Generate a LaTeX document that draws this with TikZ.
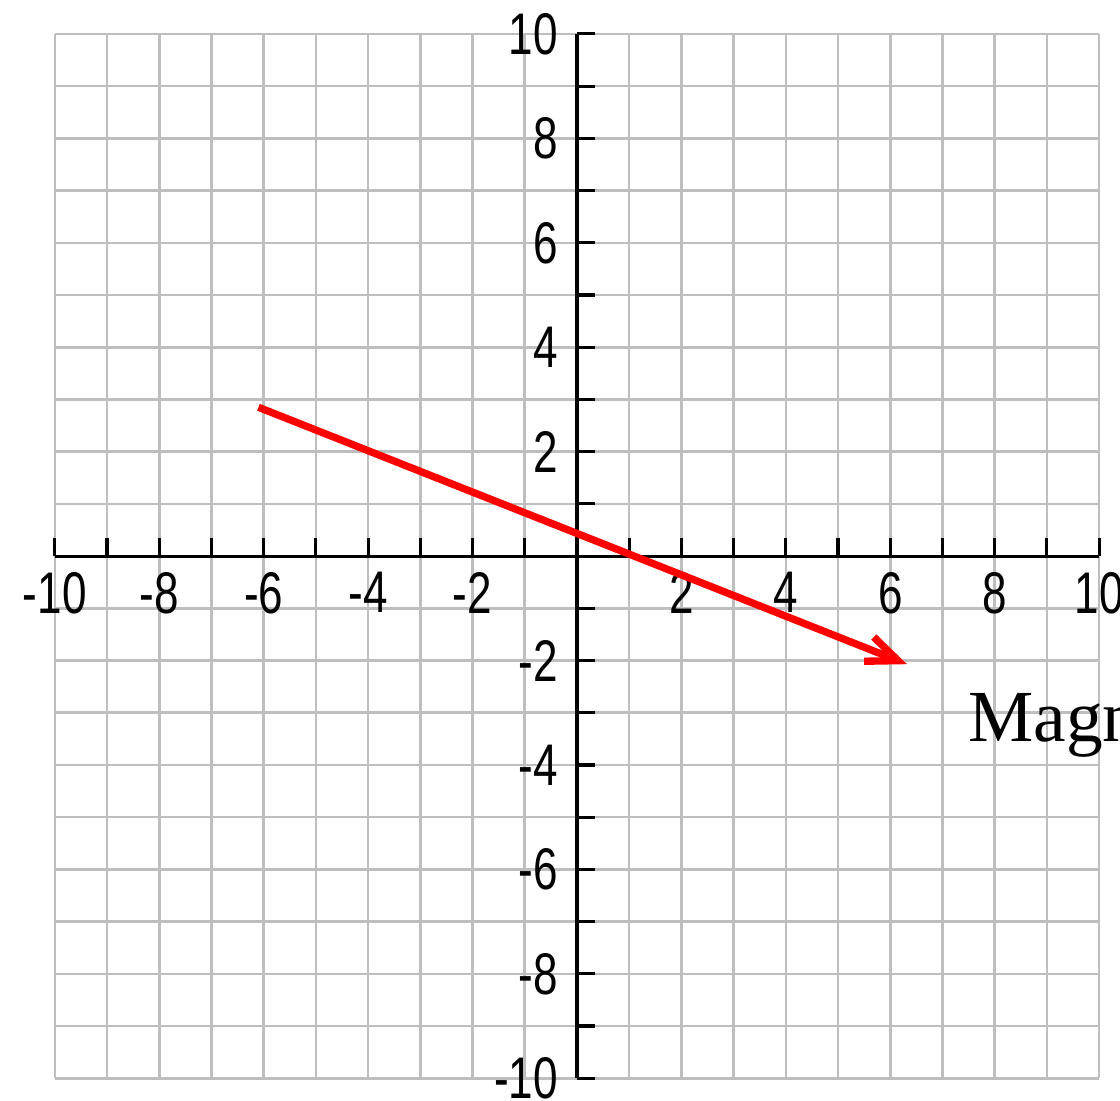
\documentclass[tikz,border=0pt]{standalone}
\usepackage{fontspec}
\setmainfont{Liberation Serif}
\newfontfamily\axisfont[FakeStretch=0.75]{Liberation Sans}
\usetikzlibrary{arrows.meta}
\definecolor{GridGray}{RGB}{190,190,190}
\definecolor{VecRed}{RGB}{255,0,0}

\begin{document}
\begin{tikzpicture}[
  gridline/.style={draw=GridGray,line width=1.4pt},
  axisline/.style={draw=black,line width=1.7pt},
  ticklabel/.style={font=\axisfont\fontsize{32}{32}\selectfont,inner sep=0pt},
  vector/.style={draw=VecRed,line width=4pt,-{Straight Barb[length=0.6cm,width=0.5cm]}}
]
\useasboundingbox (-11.05,-10.42) rectangle (10.40,10.65);
% grid
\foreach \k in {-10,...,10} {
  \draw[gridline] (\k,-10) -- (\k,10);
  \draw[gridline] (-10,\k) -- (10,\k);
}
% axes and ticks
\draw[axisline] (-10,0) -- (10,0);
\draw[axisline] (0,-10) -- (0,10);
\foreach \k in {-10,...,10} {
  \draw[axisline] (\k,0) -- (\k,0.35);
  \draw[axisline] (0,\k) -- (0.35,\k);
}
% labels
\foreach \k in {-10,-8,-6,-4,-2,2,4,6,8,10} {
  \node[ticklabel,anchor=north] (xl\k) at (\k,-0.3) {\k};
  \node[ticklabel,anchor=east] (yl\k) at (-0.36,\k) {\k};
}
% vector
\coordinate (vstart) at (-6.1,2.85);
\coordinate (vend) at (6.32,-2.07);
\draw[vector] (vstart) -- (vend);
\node[font=\fontsize{40}{40}\selectfont,inner sep=0pt,anchor=base west] (magn) at (7.49,-3.56) {Magn};
\end{tikzpicture}
\end{document}
